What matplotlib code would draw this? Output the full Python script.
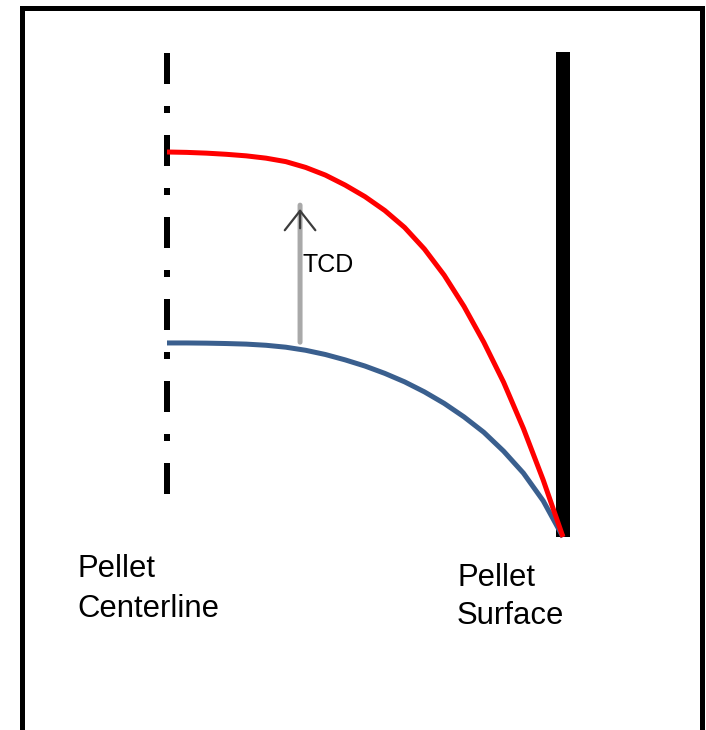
import matplotlib
matplotlib.use("Agg")
import matplotlib.pyplot as plt
from matplotlib.lines import Line2D

plt.rcParams['font.family'] = ['Liberation Sans', 'DejaVu Sans']
plt.rcParams['lines.scale_dashes'] = False

# ---- data: normalised radius (0 = centerline, 1 = surface) vs normalised temperature
r_hot = [0.00, 0.05, 0.10, 0.15, 0.20, 0.25, 0.30, 0.35, 0.40, 0.45, 0.50,
         0.55, 0.60, 0.65, 0.70, 0.75, 0.80, 0.85, 0.90, 0.95, 1.00]
T_hot = [1.000, 0.999, 0.997, 0.994, 0.990, 0.984, 0.975, 0.960, 0.940, 0.914, 0.884,
         0.848, 0.804, 0.748, 0.680, 0.599, 0.506, 0.402, 0.282, 0.148, 0.000]

r_cold = [0.00, 0.05, 0.10, 0.15, 0.20, 0.25, 0.30, 0.35, 0.40, 0.45, 0.50,
          0.55, 0.60, 0.65, 0.70, 0.75, 0.80, 0.85, 0.90, 0.95, 1.00]
T_cold = [0.504, 0.504, 0.5035, 0.5025, 0.501, 0.498, 0.493, 0.485, 0.474, 0.460, 0.444,
          0.425, 0.403, 0.377, 0.347, 0.312, 0.272, 0.223, 0.166, 0.094, 0.000]

centerline_r = 0.0
surface_r = 1.0
guide_T_top = 1.257
guide_T_bottom = 0.109
surface_T_top = 1.26

tcd_r = 0.336
tcd_T_from = 0.506
tcd_T_to = 0.862

labels_left = ["Pellet", "Centerline"]
labels_right = ["Pellet", "Surface"]
tcd_label = "TCD"

W, H = 706, 730
fig = plt.figure(figsize=(W / 100, H / 100), dpi=100)
ax = fig.add_axes([0, 0, 1, 1])
ax.set_axis_off()
# map: x_px = 167 + 396 r ; y_px = 537 - 385 T
ax.set_xlim(-167 / 396, (W - 167) / 396)
ax.set_ylim(-(H - 537) / 385, 537 / 385)

px = 0.72  # points per pixel

# dash-dot centerline
ax.plot([centerline_r, centerline_r], [guide_T_top, guide_T_bottom], color='black',
        lw=6 * px, dashes=(31 * px, 22 * px, 7 * px, 22 * px), solid_capstyle='butt',
        dash_capstyle='butt', zorder=2)

# surface bar
ax.plot([surface_r, surface_r], [0, surface_T_top], color='black', lw=14 * px,
        solid_capstyle='butt', zorder=2)

# temperature profiles
ax.plot(r_cold, T_cold, color='#3A5F8E', lw=5 * px, solid_capstyle='butt',
        solid_joinstyle='round', zorder=3)
ax.plot(r_hot, T_hot, color='#FF0000', lw=5 * px, solid_capstyle='butt',
        solid_joinstyle='round', zorder=4)

# TCD arrow: grey shaft + dark open head
ax.annotate('', xy=(tcd_r, tcd_T_to), xytext=(tcd_r, tcd_T_from),
            arrowprops=dict(arrowstyle='-', color='#A9A9A9', lw=5 * px,
                            shrinkA=0, shrinkB=0), zorder=3)
ax.annotate('', xy=(tcd_r, tcd_T_to - 0.01), xytext=(tcd_r, tcd_T_to - 0.06),
            arrowprops=dict(arrowstyle='->, head_length=0.7, head_width=0.55',
                            mutation_scale=20, color='#3C3C3C', lw=1.6,
                            shrinkA=0, shrinkB=0), zorder=3)
ax.text(tcd_r + 0.007, 0.688, tcd_label, fontsize=18, ha='left', va='baseline', zorder=5)

# labels (figure pixel positions)
def ftext(x, y, s):
    fig.text(x / W, 1 - y / H, s, fontsize=22.3, ha='left', va='baseline')

ftext(77, 577, labels_left[0])
ftext(77, 617, labels_left[1])
ftext(457, 586, labels_right[0])
ftext(457, 624, labels_right[1])

# frame (open at bottom)
fx = [21.7, 21.7, 702, 702]
fy = [H + 5, 7.5, 7.5, H + 5]
fig.add_artist(Line2D([x / W for x in fx], [1 - y / H for y in fy], color='black',
                      lw=5 * px, solid_joinstyle='miter', transform=fig.transFigure))
fig.add_artist(Line2D([24 / W, 699 / W], [0.5 / H, 0.5 / H], color='#E3E3E3', lw=1 * px,
                      transform=fig.transFigure))

fig.savefig('out.png', dpi=100)
